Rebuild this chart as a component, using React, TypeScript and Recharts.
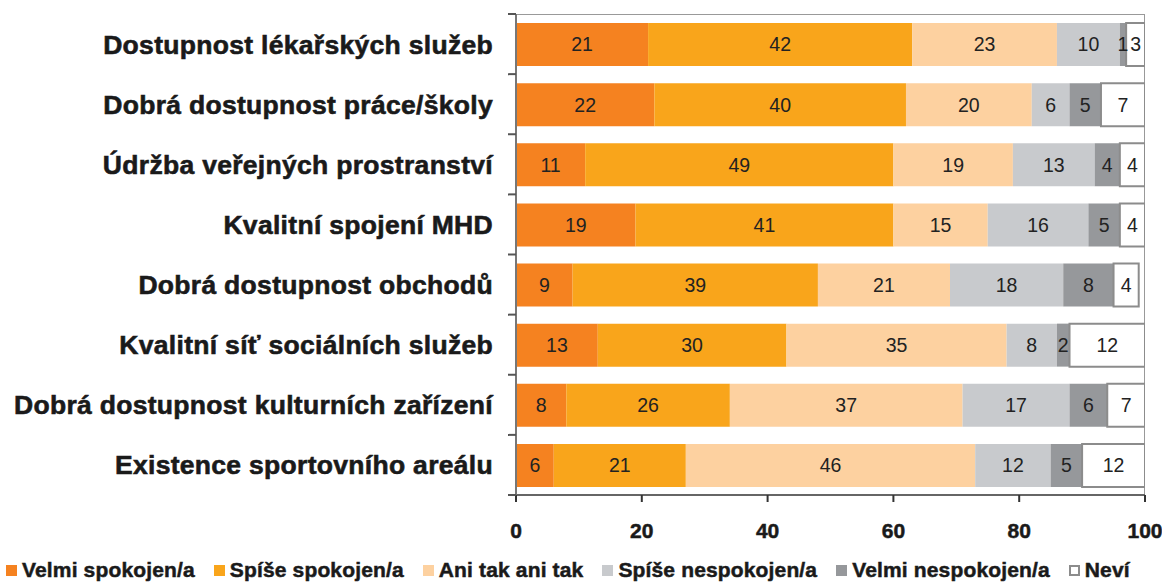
import React from 'react';
import { BarChart, Bar, XAxis, YAxis, LabelList, ReferenceArea, Legend } from 'recharts';

const categories = [
  'Dostupnost lékařských služeb',
  'Dobrá dostupnost práce/školy',
  'Údržba veřejných prostranství',
  'Kvalitní spojení MHD',
  'Dobrá dostupnost obchodů',
  'Kvalitní síť sociálních služeb',
  'Dobrá dostupnost kulturních zařízení',
  'Existence sportovního areálu',
];

const seriesNames = [
  'Velmi spokojen/a',
  'Spíše spokojen/a',
  'Ani tak ani tak',
  'Spíše nespokojen/a',
  'Velmi nespokojen/a',
  'Neví',
];

const velmiSpokojen = [21, 22, 11, 19, 9, 13, 8, 6];
const spiseSpokojen = [42, 40, 49, 41, 39, 30, 26, 21];
const aniTakAniTak = [23, 20, 19, 15, 21, 35, 37, 46];
const spiseNespokojen = [10, 6, 13, 16, 18, 8, 17, 12];
const velmiNespokojen = [1, 5, 4, 5, 8, 2, 6, 5];
const nevi = [3, 7, 4, 4, 4, 12, 7, 12];

const xTicks = [0, 20, 40, 60, 80, 100];

const seriesValues = [velmiSpokojen, spiseSpokojen, aniTakAniTak, spiseNespokojen, velmiNespokojen, nevi];
const keys = ['s0', 's1', 's2', 's3', 's4', 's5'];
const fills = ['#F58220', '#F9A51B', '#FDD1A0', '#C8CACD', '#96989B', '#FFFFFF'];

const data = categories.map((name, i) => {
  const row: Record<string, any> = { name };
  keys.forEach((k, j) => {
    row[k] = seriesValues[j][i];
  });
  return row;
});

const W = 1162;
const H = 583;
const PLOT_TOP = 14;
const PLOT_BOTTOM = 495;
const BAND = (PLOT_BOTTOM - PLOT_TOP) / categories.length;
const FONT = '"Liberation Sans", Arial, Helvetica, sans-serif';

const YTick = (props: any) => {
  const { x, y, payload, index, visibleTicksCount } = props;
  const half = BAND / 2;
  const axisX = x + 23;
  return (
    <g>
      <line x1={axisX - 8} x2={axisX} y1={y - half} y2={y - half} stroke="#555" strokeWidth={2} />
      {index === visibleTicksCount - 1 && (
        <line x1={axisX - 8} x2={axisX} y1={y + half} y2={y + half} stroke="#555" strokeWidth={2} />
      )}
      <text
        x={x}
        y={y}
        dy="0.36em"
        textAnchor="end"
        fontFamily={FONT}
        fontWeight="bold"
        fontSize={26.5}
        letterSpacing={0.3}
        fill="#1a1a1a"
        stroke="#1a1a1a"
        strokeWidth={0.6}
      >
        {payload.value}
      </text>
    </g>
  );
};

const LegendContent = () => (
  <div
    style={{
      display: 'flex',
      alignItems: 'center',
      paddingLeft: 6,
      fontFamily: FONT,
      fontWeight: 'bold',
      fontSize: 21,
      letterSpacing: 0.15,
      color: '#1a1a1a',
      whiteSpace: 'nowrap',
      WebkitTextStroke: '0.5px #1a1a1a',
    }}
  >
    {seriesNames.map((n, i) => (
      <div key={n} style={{ display: 'flex', alignItems: 'center', marginRight: 19 }}>
        <span
          style={{
            display: 'inline-block',
            width: 11,
            height: 11,
            boxSizing: 'border-box',
            background: fills[i],
            border: i === 5 ? '2px solid #8c8c8c' : 'none',
            marginRight: 5,
          }}
        />
        <span>{n}</span>
      </div>
    ))}
  </div>
);

export default function App() {
  return (
    <div style={{ position: 'absolute', left: 0, top: 0, width: W, height: H, background: '#fff' }}>
      <BarChart
        width={W}
        height={H}
        data={data}
        layout="vertical"
        margin={{ top: PLOT_TOP, right: 17, bottom: H - PLOT_BOTTOM - 50, left: 0 }}
      >
        <XAxis
          type="number"
          domain={[0, 100]}
          ticks={xTicks}
          allowDataOverflow
          height={50}
          tickSize={7}
          tickMargin={21}
          stroke="#666"
          strokeWidth={2}
          tickLine={{ stroke: '#333', strokeWidth: 2 }}
          tick={{ fontFamily: FONT, fontWeight: 'bold', fontSize: 21, fill: '#1a1a1a', stroke: '#1a1a1a', strokeWidth: 0.5 }}
        />
        <YAxis
          type="category"
          dataKey="name"
          width={516}
          tickSize={8}
          tickMargin={15}
          tickLine={false}
          stroke="#777"
          strokeWidth={2}
          tick={<YTick />}
          interval={0}
        />
        {keys.map((k, j) => (
          <Bar
            key={k}
            dataKey={k}
            name={seriesNames[j]}
            stackId="a"
            barSize={43}
            fill={fills[j]}
            stroke={j === 5 ? '#8c8c8c' : 'none'}
            strokeWidth={j === 5 ? 2 : 0}
            isAnimationActive={false}
          >
            <LabelList
              dataKey={k}
              position="center"
              fill="#222"
              fontSize={19.5}
              fontFamily={FONT}
            />
          </Bar>
        ))}
        <ReferenceArea x1={0} x2={100} fill="none" stroke="#999" strokeWidth={2} ifOverflow="hidden" />
        <Legend
          layout="horizontal"
          verticalAlign="middle"
          align="center"
          content={<LegendContent />}
          wrapperStyle={{ top: 558, left: 0, width: W }}
        />
      </BarChart>
    </div>
  );
}
